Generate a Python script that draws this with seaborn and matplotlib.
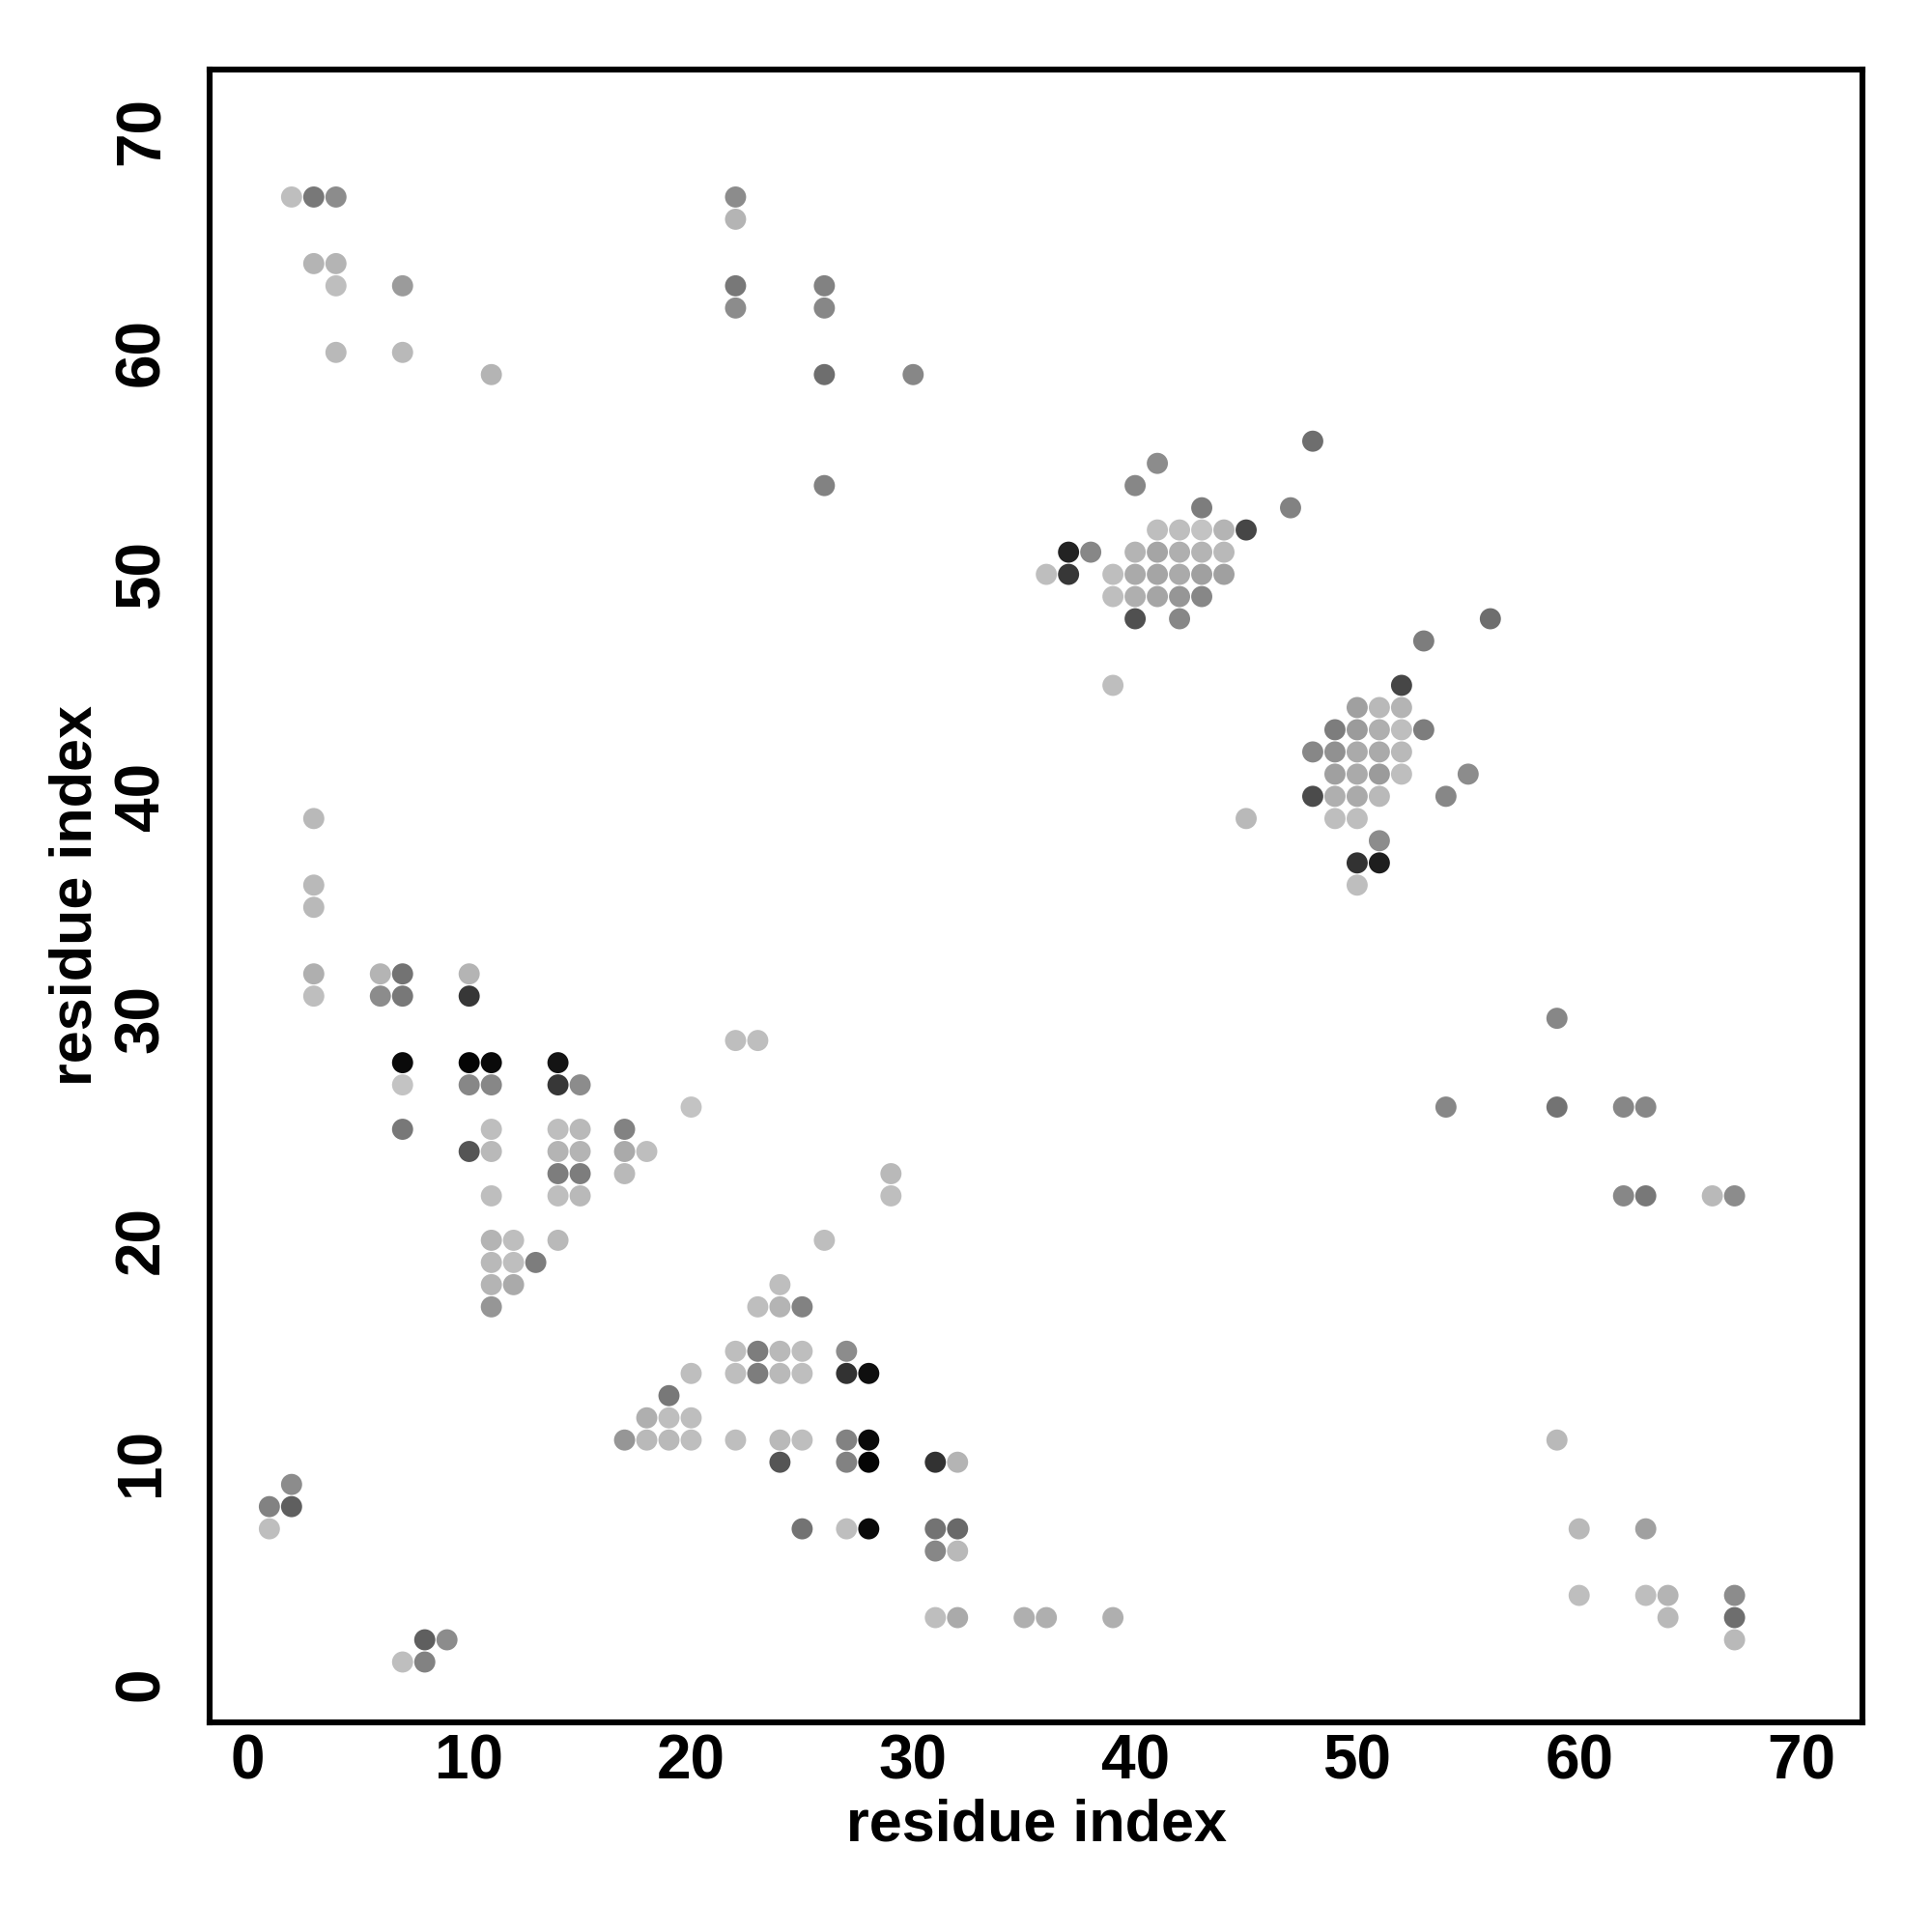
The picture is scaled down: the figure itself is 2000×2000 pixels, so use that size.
import matplotlib
matplotlib.use("Agg")
import matplotlib.pyplot as plt
import pandas as pd
import seaborn as sns

# contact pairs (residue i, residue j) and the grey level of each dot (0 = black, 255 = white)
res_i = [2, 3, 4, 3, 4, 4, 7, 4, 7, 11,
         22, 22, 22, 22, 26, 26, 26, 30, 26,
         48, 41, 40, 43, 47,
         41, 42, 43, 44, 45,
         37, 38, 40, 41, 42, 43, 44,
         36, 37, 39, 40, 41, 42, 43, 44,
         39, 40, 41, 42, 43,
         40, 42, 56, 53, 39, 52,
         50, 51, 52,
         49, 50, 51, 52, 53,
         48, 49, 50, 51, 52,
         49, 50, 51, 52, 55,
         48, 49, 50, 51, 54,
         45, 49, 50,
         51, 50, 51, 50,
         3, 3, 3, 3, 3,
         6, 7, 6, 7, 10, 10,
         7, 10, 11, 14,
         7, 10, 11, 14, 15,
         20,
         7, 11, 14, 15, 17,
         10, 11, 14, 15, 17, 18,
         14, 15, 17,
         11, 14, 15,
         11, 12, 14,
         11, 12, 13,
         11, 12,
         11,
         22, 23, 29, 29, 26, 24,
         23, 24, 25,
         22, 23, 24, 25, 27,
         20, 22, 23, 24, 25, 27, 28,
         19,
         18, 19, 20,
         17, 18, 19, 20, 22, 24, 25, 27, 28,
         24, 27, 28, 31, 32,
         25, 27, 28, 31, 32,
         31, 32,
         31, 32, 35, 36, 39,
         2, 1, 2, 1, 8, 9, 7, 8,
         59, 54, 59, 62, 63, 62, 63, 66, 67,
         59, 60, 63, 60, 63, 64, 67, 64, 67, 67]

res_j = [67, 67, 67, 64, 64, 63, 63, 60, 60, 59,
         67, 66, 63, 62, 63, 62, 59, 59, 54,
         56, 55, 54, 53, 53,
         52, 52, 52, 52, 52,
         51, 51, 51, 51, 51, 51, 51,
         50, 50, 50, 50, 50, 50, 50, 50,
         49, 49, 49, 49, 49,
         48, 48, 48, 47, 45, 45,
         44, 44, 44,
         43, 43, 43, 43, 43,
         42, 42, 42, 42, 42,
         41, 41, 41, 41, 41,
         40, 40, 40, 40, 40,
         39, 39, 39,
         38, 37, 37, 36,
         39, 36, 35, 32, 31,
         32, 32, 31, 31, 32, 31,
         28, 28, 28, 28,
         27, 27, 27, 27, 27,
         26,
         25, 25, 25, 25, 25,
         24, 24, 24, 24, 24, 24,
         23, 23, 23,
         22, 22, 22,
         20, 20, 20,
         19, 19, 19,
         18, 18,
         17,
         29, 29, 23, 22, 20, 18,
         17, 17, 17,
         15, 15, 15, 15, 15,
         14, 14, 14, 14, 14, 14, 14,
         13,
         12, 12, 12,
         11, 11, 11, 11, 11, 11, 11, 11, 11,
         10, 10, 10, 10, 10,
         7, 7, 7, 7, 7,
         6, 6,
         3, 3, 3, 3, 3,
         9, 8, 8, 7, 2, 2, 1, 1,
         30, 26, 26, 26, 26, 22, 22, 22, 22,
         11, 7, 7, 4, 4, 4, 4, 3, 3, 2]

shade = [190, 120, 140, 180, 180, 190, 155, 185, 185, 180,
         140, 180, 120, 140, 130, 135, 110, 135, 130,
         110, 140, 135, 125, 130,
         190, 190, 195, 180, 70,
         35, 135, 180, 165, 175, 180, 185,
         190, 55, 190, 170, 165, 170, 160, 160,
         190, 175, 165, 150, 135,
         80, 135, 110, 125, 190, 70,
         160, 185, 180,
         125, 155, 175, 190, 125,
         135, 145, 170, 170, 185,
         160, 170, 155, 190, 140,
         75, 175, 170, 185, 135,
         185, 190, 190,
         140, 50, 30, 190,
         185, 185, 185, 175, 190,
         180, 115, 140, 120, 180, 55,
         10, 5, 10, 20,
         195, 135, 135, 55, 140,
         195,
         120, 190, 190, 185, 130,
         85, 185, 180, 180, 170, 190,
         125, 125, 185,
         190, 190, 185,
         180, 190, 185,
         185, 190, 125,
         180, 170,
         150,
         190, 190, 185, 190, 190, 190,
         190, 180, 130,
         190, 125, 185, 190, 140,
         190, 190, 125, 185, 190, 50, 15,
         120,
         175, 190, 190,
         150, 185, 185, 190, 190, 185, 190, 130, 10,
         85, 130, 5, 50, 180,
         115, 190, 10, 115, 105,
         135, 185,
         190, 170, 175, 175, 175,
         140, 130, 95, 190, 95, 140, 190, 130,
         135, 135, 115, 135, 135, 135, 120, 185, 140,
         185, 185, 160, 190, 190, 180, 140, 185, 110, 185]

ticks = [0, 10, 20, 30, 40, 50, 60, 70]

df = pd.DataFrame({"i": res_i, "j": res_j, "shade": shade})

sns.set_style("white")
plt.rcParams["font.family"] = ["Liberation Sans", "DejaVu Sans"]
plt.rcParams["text.color"] = "black"
plt.rcParams["axes.labelcolor"] = "black"
plt.rcParams["xtick.color"] = "black"
plt.rcParams["ytick.color"] = "black"

fig = plt.figure(figsize=(10, 10), dpi=200)
ax = fig.add_axes([0.1084, 0.1085, 0.8557, 0.8557])

sns.scatterplot(data=df, x="i", y="j", hue="shade", palette="gray",
                hue_norm=(0, 255), s=62, linewidth=0, legend=False, ax=ax)

ax.set_xlim(-1.70, 72.77)
ax.set_ylim(-1.72, 72.76)
ax.set_xticks(ticks)
ax.set_yticks(ticks)
ax.set_xticklabels([str(t) for t in ticks], fontsize=23, fontweight="bold")
ax.set_yticklabels([str(t) for t in ticks], fontsize=23, fontweight="bold",
                   rotation=90, va="center")
ax.tick_params(axis="both", direction="out", length=3.2, width=1.8,
               color="black", labelcolor="black")
ax.tick_params(axis="x", pad=1)
ax.tick_params(axis="y", pad=11)

for sp in ax.spines.values():
    sp.set_visible(True)
    sp.set_color("black")
    sp.set_linewidth(2.2)

ax.set_xlabel("residue index", fontsize=22, fontweight="bold", color="black")
ax.set_ylabel("residue index", fontsize=22, fontweight="bold", color="black")
ax.xaxis.label.set_va("center")
ax.yaxis.label.set_va("center")
ax.xaxis.set_label_coords(0.5, -0.0625)
ax.yaxis.set_label_coords(-0.0805, 0.5)

fig.savefig("out.png", dpi=200, facecolor="white")
